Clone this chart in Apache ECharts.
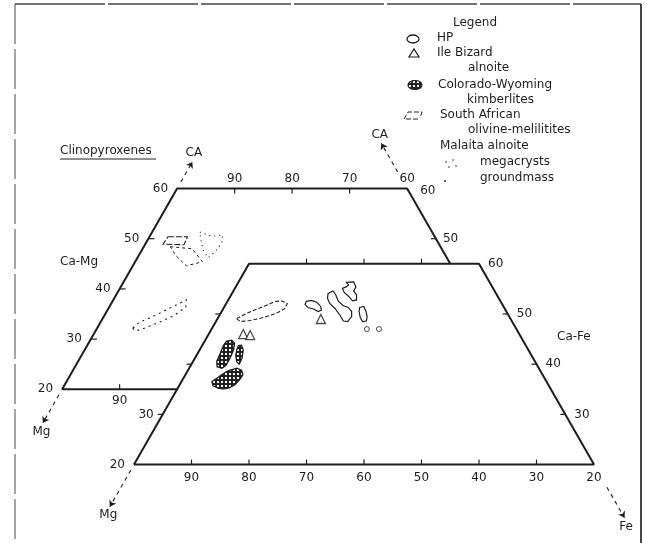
<!DOCTYPE html>
<html>
<head>
<meta charset="utf-8" />
<title>Clinopyroxenes</title>
<script src="https://cdn.jsdelivr.net/npm/echarts@6/dist/echarts.min.js"></script>
<style>
  html, body { margin: 0; padding: 0; background: #fff; }
  #main { width: 647px; height: 543px; }
</style>
</head>
<body>
<div id="main"></div>
<script>
// ---- data (ternary Ca - Mg - Fe, values in mol %; each point is [Fe, Ca]) ----
// tick values
var MG_LABELS = [90, 80, 70, 60, 50, 40, 30, 20];   // read along the horizontal edges (= 100 - Fe)
var CA_LABELS = [20, 30, 40, 50, 60];

// front face (Ca-Fe quadrilateral)
var HP_FIELDS = [
  [[3.3,49.1],[4.5,50.1],[6.1,51.1],[7.4,51.9],[8.3,52.5],[9.4,52.6],[10.6,52.1],[10.7,51.1],[9.9,50.3],[8.8,49.7],[7.3,49.1],[5.8,48.7],[4.2,48.5],[3.3,49.1]],
  [[13.7,52.5],[14.5,52.7],[15.7,52.3],[16.7,51.5],[17.2,50.8],[16.8,50.5],[15.7,51.0],[14.6,51.3],[13.8,51.9]],
  [[16.7,54.1],[17.3,54.6],[18.2,53.8],[19.2,52.6],[20.5,51.7],[21.6,51.3],[22.6,50.5],[23.1,49.5],[22.9,48.5],[22.1,48.6],[20.9,49.8],[19.4,51.1],[18.0,52.1],[17.1,53.1]],
  [[18.8,56.3],[20.0,56.4],[20.9,55.4],[20.9,54.6],[21.8,53.8],[22.3,52.8],[21.7,52.6],[20.6,53.5],[19.4,54.3],[18.7,55.1],[19.2,55.4],[19.4,55.8]],
  [[23.6,51.3],[24.2,51.5],[25.1,50.5],[25.8,49.5],[26.1,48.6],[25.5,48.5],[24.7,49.3],[23.9,50.5]]
];
var HP_POINTS = [[27.0,47.0],[29.1,47.0]];
var ILE_BIZARD = [[6.0,46.0],[7.3,45.8],[18.0,49.0]];
var CW_KIMBERLITES = [
  [[3.8,44.6],[4.6,44.8],[5.4,44.2],[5.9,42.8],[6.1,41.2],[6.1,39.8],[5.7,39.2],[4.7,39.5],[4.1,40.6],[3.9,42.2],[3.7,43.7]],
  [[6.3,43.7],[6.8,43.8],[7.6,42.8],[8.2,41.2],[8.3,40.0],[7.6,40.5],[6.8,41.8],[6.4,43.0]],
  [[7.3,38.8],[8.3,39.2],[9.3,38.8],[10.0,37.9],[9.9,36.9],[9.6,35.9],[8.9,35.3],[8.0,35.1],[7.1,35.2],[5.9,35.7],[5.3,36.5],[5.8,37.2],[6.3,37.9],[6.8,38.5]]
];

// back face (Ca-Mg quadrilateral)
var SA_MELILITITES = [
  [[3.2,50.4],[6.6,50.4],[6.8,48.8],[3.1,48.9],[3.2,50.4]],
  [[4.6,48.4],[8.6,48.0],[11.7,45.4],[9.3,44.6],[6.5,46.6],[4.6,48.4]]
];
var MALAITA_MEGACRYSTS = [[8.3,51.3],[10.8,50.5],[12.6,50.7],[13.2,49.1],[12.9,47.4],[12.3,46.2],[10.6,47.8],[9.3,49.7],[8.3,51.3]];
var MALAITA_GROUNDMASS = [[6.2,32.2],[6.8,33.4],[8.4,34.4],[9.7,35.4],[10.9,36.4],[12.7,37.8],[13.3,36.4],[12.2,34.8],[10.3,33.4],[8.3,32.2],[6.9,31.6],[6.2,32.2]];

// ---- layout ----
var W = 647, H = 543;
var X0 = 76.5, UX = 5.75;     // pixel of x = 0, pixels per unit
var Y0 = 565, UY = 5.02;      // pixel of Ca = 0, pixels per Ca unit
var BACK_FE = -20, BACK_CA = 15;  // where the back face sits relative to the front one
var INK = '#1e1e1e';
var FONT = '12px "DejaVu Sans"';

function toXY(fe, ca, back) {
  if (back) { fe += BACK_FE; ca += BACK_CA; }
  return [fe + ca / 2, ca];
}
function mgLine(ca) { return 100 - ca; }  // Fe on the Mg = 0 edge

// dark mesh pattern for the kimberlite fields
var pat = document.createElement('canvas');
pat.width = 4; pat.height = 4;
var pc = pat.getContext('2d');
pc.fillStyle = '#222'; pc.fillRect(0, 0, 4, 4);
pc.fillStyle = '#fff'; pc.fillRect(1, 1, 2, 2);
var HATCH = { image: pat, repeat: 'repeat' };

function edgeSeries(pts, back) {
  return {
    type: 'line', symbol: 'none', silent: true,
    data: pts.map(function (p) { return toXY(p[0], p[1], back); }),
    lineStyle: { color: INK, width: 2 }
  };
}

function tickSeries(pts, back, a, b) {
  return {
    type: 'custom', silent: true,
    data: pts.map(function (p) { return toXY(p[0], p[1], back); }),
    renderItem: function (params, api) {
      var c = api.coord([api.value(0), api.value(1)]);
      return { type: 'line', shape: { x1: c[0] + a[0], y1: c[1] + a[1], x2: c[0] + b[0], y2: c[1] + b[1] },
               style: { stroke: INK, lineWidth: 1.2 } };
    }
  };
}

function textSeries(pts, texts, back, dx, dy, align) {
  return {
    type: 'custom', silent: true,
    data: pts.map(function (p) { return toXY(p[0], p[1], back); }),
    renderItem: function (params, api) {
      var c = api.coord([api.value(0), api.value(1)]);
      return { type: 'text', x: c[0] + dx, y: c[1] + dy,
               style: { text: String(texts[params.dataIndex]), font: FONT, fill: INK, align: align, verticalAlign: 'middle' } };
    }
  };
}

function fieldSeries(shapes, back, style) {
  return {
    type: 'custom', silent: true,
    data: shapes.map(function (s) { return toXY(s[0][0], s[0][1], back); }),
    renderItem: function (params, api) {
      var pts = shapes[params.dataIndex].map(function (p) { return api.coord(toXY(p[0], p[1], back)); });
      return { type: 'polygon', shape: { points: pts }, style: style };
    }
  };
}

function arrowSeries(from, to, back, name) {
  return {
    type: 'lines', coordinateSystem: 'cartesian2d', silent: true,
    symbol: ['none', 'arrow'], symbolSize: 6,
    lineStyle: { color: INK, width: 1.1, type: [4, 4], opacity: 1 },
    label: { show: true, position: 'end', distance: 3, formatter: name, color: INK, fontSize: 12, fontFamily: 'DejaVu Sans' },
    data: [{ coords: [toXY(from[0], from[1], back), toXY(to[0], to[1], back)] }]
  };
}

var feOf = function (v) { return 100 - v; };
var series = [];

// back face outline (hidden part cut by the front face)
series.push(edgeSeries([[20,20],[0,20],[0,60],[40,60],[55,45]], true));
// front face outline
series.push(edgeSeries([[0,20],[0,60],[40,60],[80,20],[0,20]], false));

// ticks
series.push(tickSeries(MG_LABELS.slice(0, 7).map(function (v) { return [feOf(v), 20]; }), false, [0, 0], [0, -5]));
series.push(tickSeries(MG_LABELS.slice(0, 3).map(function (v) { return [feOf(v), 60]; }), false, [0, 0], [0, -5]));
series.push(tickSeries(CA_LABELS.slice(1, 4).map(function (c) { return [0, c]; }), false, [-5, 0], [0, 0]));
series.push(tickSeries(CA_LABELS.slice(1, 4).map(function (c) { return [mgLine(c), c]; }), false, [-5, 0], [0, 0]));
series.push(tickSeries(MG_LABELS.slice(0, 3).map(function (v) { return [feOf(v), 60]; }), true, [0, 0], [0, 5]));
series.push(tickSeries([[feOf(90), 20]], true, [0, 0], [0, -5]));
series.push(tickSeries(CA_LABELS.slice(1, 4).map(function (c) { return [0, c]; }), true, [0, 0], [6, 0]));
series.push(tickSeries([[mgLine(50), 50]], true, [-5, 0], [0, 0]));

// tick labels, front face
series.push(textSeries(MG_LABELS.map(function (v) { return [feOf(v), 20]; }), MG_LABELS, false, 0, 13, 'center'));
series.push(textSeries([[0, 20], [0, 30]], [20, 30], false, -9, 0, 'right'));
series.push(textSeries(CA_LABELS.slice(1).map(function (c) { return [mgLine(c), c]; }), CA_LABELS.slice(1), false, 9, 0, 'left'));
// tick labels, back face
series.push(textSeries(MG_LABELS.slice(0, 4).map(function (v) { return [feOf(v), 60]; }), MG_LABELS.slice(0, 4), true, 0, -10, 'center'));
series.push(textSeries(CA_LABELS.map(function (c) { return [0, c]; }), CA_LABELS, true, -9, 0, 'right'));
series.push(textSeries([[feOf(90), 20]], [90], true, 0, 12, 'center'));
series.push(textSeries([[mgLine(50), 50]], [50], true, 7, 0, 'left'));
series.push(textSeries([[mgLine(60), 60]], [60], true, 13, 2, 'left'));

// axis arrows
series.push(arrowSeries([0, 61.3], [0, 65.3], true, 'CA'));
series.push(arrowSeries([mgLine(63.3), 63.3], [mgLine(69), 69], true, 'CA'));
series.push(arrowSeries([0, 18.9], [0, 13.3], true, 'Mg'));
series.push(arrowSeries([0, 18.9], [0, 11.6], false, 'Mg'));
series.push(arrowSeries([mgLine(15.5), 15.5], [mgLine(9.4), 9.4], false, 'Fe'));

// fields
series.push(fieldSeries(HP_FIELDS.slice(0, 1), false, { fill: 'none', stroke: INK, lineWidth: 1.1, lineDash: [4, 2] }));
series.push(fieldSeries(HP_FIELDS.slice(1), false, { fill: 'none', stroke: INK, lineWidth: 1.2 }));
series.push(fieldSeries(CW_KIMBERLITES, false, { fill: HATCH, stroke: INK, lineWidth: 1.3 }));
series.push(fieldSeries(SA_MELILITITES.slice(0, 1), true, { fill: 'none', stroke: INK, lineWidth: 1.1, lineDash: [6, 2] }));
series.push(fieldSeries(SA_MELILITITES.slice(1), true, { fill: 'none', stroke: INK, lineWidth: 1, lineDash: [3, 3] }));
series.push(fieldSeries([MALAITA_MEGACRYSTS], true, { fill: 'none', stroke: INK, lineWidth: 1.2, lineDash: [1, 4] }));
series.push(fieldSeries([MALAITA_GROUNDMASS], true, { fill: 'none', stroke: INK, lineWidth: 1.1, lineDash: [2, 4] }));

// point symbols
series.push({
  type: 'scatter', silent: true, symbol: 'circle', symbolSize: 5,
  itemStyle: { color: '#fff', borderColor: INK, borderWidth: 1 },
  data: HP_POINTS.map(function (p) { return toXY(p[0], p[1], false); })
});
series.push({
  type: 'scatter', silent: true, symbol: 'triangle', symbolSize: 9,
  itemStyle: { color: '#fff', borderColor: INK, borderWidth: 1.3 },
  data: ILE_BIZARD.map(function (p) { return toXY(p[0], p[1], false); })
});

// ---- legend & labels (graphic) ----
function txt(x, y, s) {
  return { type: 'text', x: x, y: y, silent: true,
           style: { text: s, font: FONT, fill: INK, align: 'left', verticalAlign: 'middle' } };
}
var graphics = [
  // scan frame
  { type: 'line', shape: { x1: 15, y1: 4, x2: 15, y2: 543 }, style: { stroke: '#888', lineWidth: 1.5, lineDash: [40, 5] } },
  { type: 'line', shape: { x1: 15, y1: 4, x2: 641, y2: 4 }, style: { stroke: '#444', lineWidth: 1.5, lineDash: [90, 3] } },
  { type: 'line', shape: { x1: 641, y1: 4, x2: 641, y2: 543 }, style: { stroke: '#333', lineWidth: 1.8 } },

  txt(60, 151, 'Clinopyroxenes'),
  { type: 'line', shape: { x1: 60, y1: 159, x2: 156, y2: 159 }, style: { stroke: INK, lineWidth: 1 } },
  txt(60, 262, 'Ca-Mg'),
  txt(557, 337, 'Ca-Fe'),

  txt(453, 23, 'Legend'),
  { type: 'ellipse', shape: { cx: 413, cy: 39, rx: 6, ry: 4 }, style: { fill: 'none', stroke: INK, lineWidth: 1.3 } },
  txt(437, 38, 'HP'),
  { type: 'polygon', shape: { points: [[409, 57], [419, 57], [414, 49]] }, style: { fill: 'none', stroke: INK, lineWidth: 1.2 } },
  txt(437, 53, 'Ile Bizard'),
  txt(468, 68, 'alnoite'),
  { type: 'ellipse', shape: { cx: 415, cy: 85, rx: 7, ry: 4.5 }, style: { fill: HATCH, stroke: INK, lineWidth: 1.2 } },
  txt(438, 85, 'Colorado-Wyoming'),
  txt(467, 100, 'kimberlites'),
  { type: 'polyline', shape: { points: [[418, 119], [404, 119], [408, 112], [422, 112], [420, 118]] }, style: { fill: 'none', stroke: INK, lineWidth: 1, lineDash: [5, 2] } },
  txt(440, 115, 'South African'),
  txt(468, 130, 'olivine-melilitites'),
  txt(440, 146, 'Malaita alnoite'),
  { type: 'circle', shape: { cx: 446, cy: 162, r: 0.8 }, style: { fill: INK } },
  { type: 'circle', shape: { cx: 453, cy: 160, r: 0.8 }, style: { fill: INK } },
  { type: 'circle', shape: { cx: 449, cy: 167, r: 0.8 }, style: { fill: INK } },
  { type: 'circle', shape: { cx: 456, cy: 166, r: 0.8 }, style: { fill: INK } },
  txt(480, 162, 'megacrysts'),
  { type: 'circle', shape: { cx: 445, cy: 181, r: 0.9 }, style: { fill: INK } },
  txt(480, 178, 'groundmass')
];

var chart = echarts.init(document.getElementById('main'));
chart.setOption({
  animation: false,
  backgroundColor: '#fff',
  grid: { left: 0, right: 0, top: 0, bottom: 0 },
  xAxis: { type: 'value', show: false, min: -X0 / UX, max: (W - X0) / UX },
  yAxis: { type: 'value', show: false, min: (Y0 - H) / UY, max: Y0 / UY },
  series: series,
  graphic: graphics
});
</script>
</body>
</html>
